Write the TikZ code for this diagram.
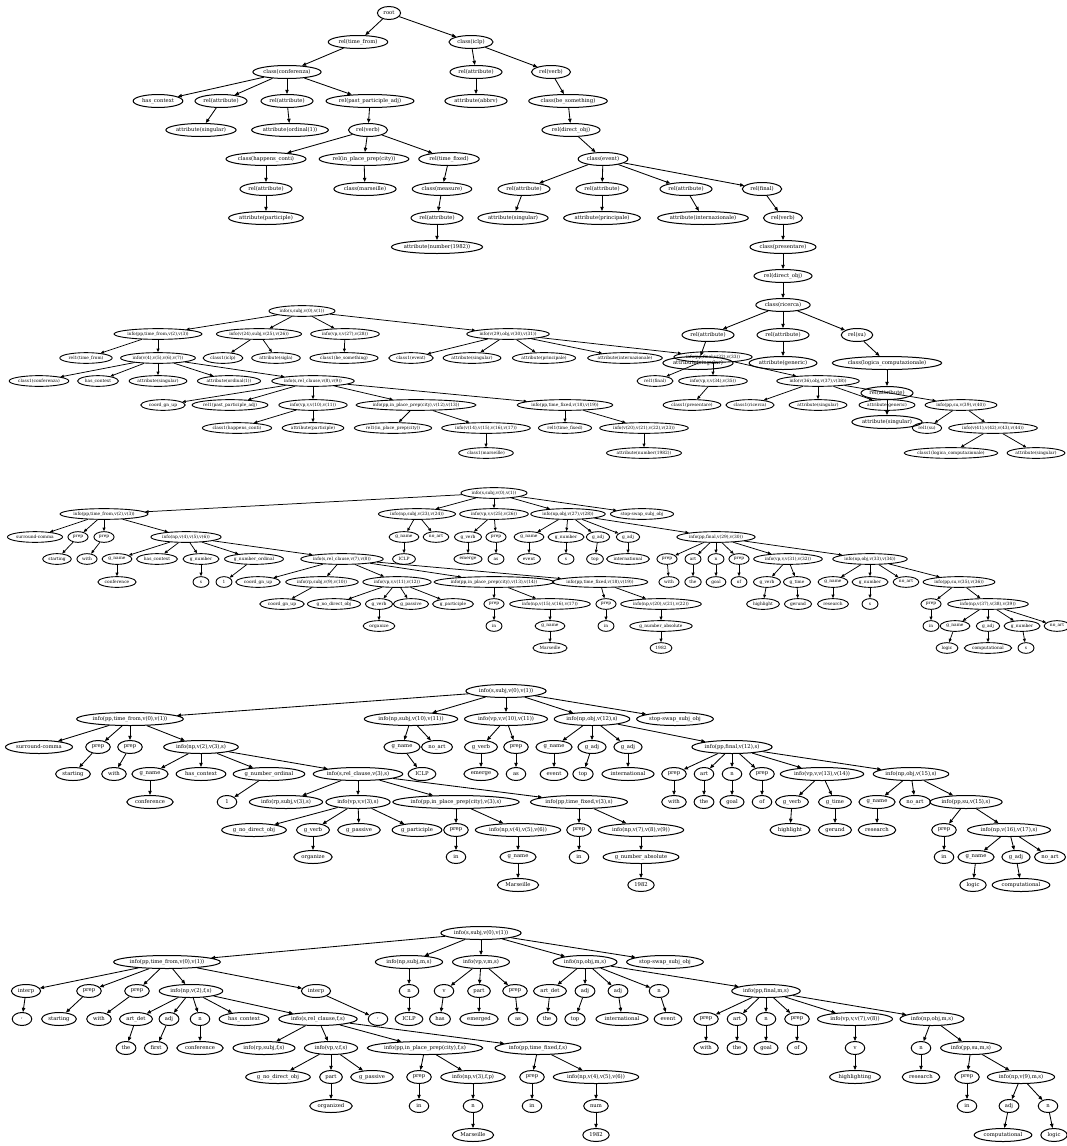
\documentclass[tikz,border=0pt]{standalone}
\usepackage{fontspec}
\setmainfont{DejaVu Serif}
\newfontfamily\gvmetric[Scale=1.12]{Liberation Serif}
\usetikzlibrary{shapes.geometric,arrows.meta}

% label drawn in the main font, sized by Times metrics (as the layout tool does)
\newlength\gvw
\newcommand{\gv}[1]{\settowidth{\gvw}{\gvmetric #1}\makebox[\gvw]{#1}}

\tikzset{
  tnode/.style={draw, ellipse, inner ysep=0pt},
  big/.style={tnode, font=\fontsize{5.3}{6}\selectfont, inner xsep=3.4pt,
    minimum height=13pt, minimum width=19.5pt, line width=1pt},
  small/.style={tnode, font=\fontsize{4.36}{5}\selectfont, inner xsep=2.8pt,
    minimum height=10.7pt, minimum width=16pt, line width=0.9pt},
  bigarc/.style={-{Triangle[length=4.2pt,width=3.4pt]}, line width=0.85pt},
  smallarc/.style={-{Triangle[length=3.5pt,width=2.8pt]}, line width=0.75pt},
}

\begin{document}
\begin{tikzpicture}[x=1pt, y=-1pt]
  \useasboundingbox (0,0) rectangle (1066,1146);

  % semantic tree
  \node[big] (a1) at (389,13) {\gv{root}};
  \node[big] (a2) at (358,42) {\gv{rel(time\_from)}};
  \node[big] (a3) at (471,42) {\gv{class(iclp)}};
  \node[big] (a4) at (287,72) {\gv{class(conferenza)}};
  \node[big] (a5) at (158,101) {\gv{has\_context}};
  \node[big] (a6) at (221,101) {\gv{rel(attribute)}};
  \node[big] (a7) at (287,101) {\gv{rel(attribute)}};
  \node[big] (a8) at (370,101) {\gv{rel(past\_participle\_adj)}};
  \node[big] (a9) at (201,130) {\gv{attribute(singular)}};
  \node[big] (a10) at (290,130) {\gv{attribute(ordinal(1))}};
  \node[big] (a11) at (368,130) {\gv{rel(verb)}};
  \node[big] (a12) at (266,159) {\gv{class(happens\_conti)}};
  \node[big] (a13) at (364,159) {\gv{rel(in\_place\_prep(city))}};
  \node[big] (a14) at (449,159) {\gv{rel(time\_fixed)}};
  \node[big] (a15) at (266,189) {\gv{rel(attribute)}};
  \node[big] (a16) at (365,189) {\gv{class(marseille)}};
  \node[big] (a17) at (442,189) {\gv{class(measure)}};
  \node[big] (a18) at (266,218) {\gv{attribute(participle)}};
  \node[big] (a19) at (437,218) {\gv{rel(attribute)}};
  \node[big] (a20) at (437,247) {\gv{attribute(number(1982))}};
  \node[big] (a21) at (476,72) {\gv{rel(attribute)}};
  \node[big] (a22) at (476,101) {\gv{attribute(abbrv)}};
  \node[big] (a23) at (551,72) {\gv{rel(verb)}};
  \node[big] (a24) at (568,101) {\gv{class(be\_something)}};
  \node[big] (a25) at (571,130) {\gv{rel(direct\_obj)}};
  \node[big] (a26) at (603,159) {\gv{class(event)}};
  \node[big] (a27) at (524,189) {\gv{rel(attribute)}};
  \node[big] (a28) at (602,189) {\gv{rel(attribute)}};
  \node[big] (a29) at (686,189) {\gv{rel(attribute)}};
  \node[big] (a30) at (762,189) {\gv{rel(final)}};
  \node[big] (a31) at (513,218) {\gv{attribute(singular)}};
  \node[big] (a32) at (602,218) {\gv{attribute(principale)}};
  \node[big] (a33) at (703,218) {\gv{attribute(internazionale)}};
  \node[big] (a34) at (783,218) {\gv{rel(verb)}};
  \node[big] (a35) at (783,247) {\gv{class(presentare)}};
  \node[big] (a36) at (783,276) {\gv{rel(direct\_obj)}};
  \node[big] (a37) at (783,305) {\gv{class(ricerca)}};
  \node[big] (a38) at (708,335) {\gv{rel(attribute)}};
  \node[big] (a39) at (783,335) {\gv{rel(attribute)}};
  \node[big] (a40) at (857,335) {\gv{rel(su)}};
  \node[big] (a41) at (698,363) {\gv{attribute(singular)}};
  \node[big] (a42) at (783,363) {\gv{attribute(generic)}};
  \node[big] (a43) at (887,363) {\gv{class(logica\_computazionale)}};
  \node[big] (a44) at (887,393) {\gv{rel(attribute)}};
  \node[big] (a45) at (887,422) {\gv{attribute(singular)}};
  \foreach \u/\v in {a1/a2, a1/a3, a2/a4, a4/a5, a4/a6, a4/a7, a4/a8, a6/a9, a7/a10,
      a8/a11, a11/a12, a11/a13, a11/a14, a12/a15, a13/a16, a14/a17, a15/a18, a17/a19,
      a19/a20, a3/a21, a3/a23, a21/a22, a23/a24, a24/a25, a25/a26, a26/a27, a26/a28,
      a26/a29, a26/a30, a27/a31, a28/a32, a29/a33, a30/a34, a34/a35, a35/a36, a36/a37,
      a37/a38, a37/a39, a37/a40, a38/a41, a39/a42, a40/a43, a43/a44, a44/a45}
    \draw[bigarc] (\u) -- (\v);

  % info tree
  \node[small] (b1) at (302,311) {\gv{info(s,subj,v(0),v(1))}};
  \node[small] (b2) at (158,334) {\gv{info(pp,time\_from,v(2),v(3))}};
  \node[small] (b3) at (259,334) {\gv{info(v(24),subj,v(25),v(26))}};
  \node[small] (b4) at (345,334) {\gv{info(vp,v,v(27),v(28))}};
  \node[small] (b5) at (508,334) {\gv{info(v(29),obj,v(30),v(31))}};
  \node[small] (b6) at (86,358) {\gv{rel1(time\_from)}};
  \node[small] (b7) at (158,358) {\gv{info(v(4),v(5),v(6),v(7))}};
  \node[small] (b8) at (223,358) {\gv{class1(iclp)}};
  \node[small] (b9) at (276,358) {\gv{attribute(sigla)}};
  \node[small] (b10) at (344,358) {\gv{class1(be\_something)}};
  \node[small] (b11) at (411,358) {\gv{class1(event)}};
  \node[small] (b12) at (472,358) {\gv{attribute(singular)}};
  \node[small] (b13) at (544,358) {\gv{attribute(principale)}};
  \node[small] (b14) at (625,358) {\gv{attribute(internazionale)}};
  \node[small] (b15) at (713,357) {\gv{info(pp,final,v(32),v(33))}};
  \node[small] (b16) at (39,381) {\gv{class1(conferenza)}};
  \node[small] (b17) at (98,381) {\gv{has\_context}};
  \node[small] (b18) at (158,381) {\gv{attribute(singular)}};
  \node[small] (b19) at (229,381) {\gv{attribute(ordinal(1))}};
  \node[small] (b20) at (313,381) {\gv{info(s,rel\_clause,v(8),v(9))}};
  \node[small] (b21) at (655,381) {\gv{rel1(final)}};
  \node[small] (b22) at (713,381) {\gv{info(vp,v,v(34),v(35))}};
  \node[small] (b23) at (818,381) {\gv{info(v(36),obj,v(37),v(38))}};
  \node[small] (b24) at (163,405) {\gv{coord\_gn\_up}};
  \node[small] (b25) at (230,405) {\gv{rel1(past\_participle\_adj)}};
  \node[small] (b26) at (313,405) {\gv{info(vp,v,v(10),v(11))}};
  \node[small] (b27) at (416,405) {\gv{info(pp,in\_place\_prep(city),v(12),v(13))}};
  \node[small] (b28) at (565,405) {\gv{info(pp,time\_fixed,v(18),v(19))}};
  \node[small] (b29) at (692,405) {\gv{class1(presentare)}};
  \node[small] (b30) at (750,405) {\gv{class1(ricerca)}};
  \node[small] (b31) at (818,405) {\gv{attribute(singular)}};
  \node[small] (b32) at (887,405) {\gv{attribute(generic)}};
  \node[small] (b33) at (961,405) {\gv{info(pp,su,v(39),v(40))}};
  \node[small] (b34) at (237,428) {\gv{class1(happens\_conti)}};
  \node[small] (b35) at (313,428) {\gv{attribute(participle)}};
  \node[small] (b36) at (393,428) {\gv{rel1(in\_place\_prep(city))}};
  \node[small] (b37) at (486,428) {\gv{info(v(14),v(15),v(16),v(17))}};
  \node[small] (b38) at (565,428) {\gv{rel1(time\_fixed)}};
  \node[small] (b39) at (644,428) {\gv{info(v(20),v(21),v(22),v(23))}};
  \node[small] (b40) at (927,428) {\gv{rel1(su)}};
  \node[small] (b41) at (993,428) {\gv{info(v(41),v(42),v(43),v(44))}};
  \node[small] (b42) at (486,453) {\gv{class1(marseille)}};
  \node[small] (b43) at (644,453) {\gv{attribute(number(1982))}};
  \node[small] (b44) at (951,453) {\gv{class1(logica\_computazionale)}};
  \node[small] (b45) at (1036,453) {\gv{attribute(singular)}};
  \foreach \u/\v in {b1/b2, b1/b3, b1/b4, b1/b5, b2/b6, b2/b7, b3/b8, b3/b9, b4/b10,
      b5/b11, b5/b12, b5/b13, b5/b14, b5/b15, b7/b16, b7/b17, b7/b18, b7/b19, b7/b20,
      b20/b24, b20/b25, b20/b26, b20/b27, b20/b28, b26/b34, b26/b35, b27/b36, b27/b37,
      b37/b42, b28/b38, b28/b39, b39/b43, b15/b21, b15/b22, b15/b23, b22/b29, b23/b30,
      b23/b31, b23/b32, b23/b33, b33/b40, b33/b41, b41/b44, b41/b45}
    \draw[smallarc] (\u) -- (\v);

  % grammar tree with variables
  \node[small] (c1) at (494,493) {\gv{info(s,subj,v(0),v(1))}};
  \node[small] (c2) at (104,514) {\gv{info(pp,time\_from,v(2),v(3))}};
  \node[small] (c3) at (417,514) {\gv{info(np,subj,v(23),v(24))}};
  \node[small] (c4) at (494,514) {\gv{info(vp,v,v(25),v(26))}};
  \node[small] (c5) at (568,514) {\gv{info(np,obj,v(27),v(28))}};
  \node[small] (c6) at (642,514) {\gv{stop-swap\_subj\_obj}};
  \node[small] (c7) at (35,537) {\gv{surround-comma}};
  \node[small] (c8) at (78,537) {\gv{prep}};
  \node[small] (c9) at (104,537) {\gv{prep}};
  \node[small] (c10) at (186,537) {\gv{info(np,v(4),v(5),v(6))}};
  \node[small] (c11) at (404,537) {\gv{g\_name}};
  \node[small] (c12) at (436,537) {\gv{no\_art}};
  \node[small] (c13) at (468,537) {\gv{g\_verb}};
  \node[small] (c14) at (496,537) {\gv{prep}};
  \node[small] (c15) at (529,537) {\gv{g\_name}};
  \node[small] (c16) at (566,537) {\gv{g\_number}};
  \node[small] (c17) at (598,537) {\gv{g\_adj}};
  \node[small] (c18) at (628,537) {\gv{g\_adj}};
  \node[small] (c19) at (716,537) {\gv{info(pp,final,v(29),v(30))}};
  \node[small] (c20) at (57,559) {\gv{starting}};
  \node[small] (c21) at (87,559) {\gv{with}};
  \node[small] (c22) at (117,559) {\gv{g\_name}};
  \node[small] (c23) at (157,559) {\gv{has\_context}};
  \node[small] (c24) at (201,559) {\gv{g\_number}};
  \node[small] (c25) at (254,559) {\gv{g\_number\_ordinal}};
  \node[small] (c26) at (342,559) {\gv{info(s,rel\_clause,v(7),v(8))}};
  \node[small] (c27) at (404,559) {\gv{ICLP}};
  \node[small] (c28) at (468,559) {\gv{emerge}};
  \node[small] (c29) at (496,559) {\gv{as}};
  \node[small] (c30) at (529,559) {\gv{event}};
  \node[small] (c31) at (566,559) {\gv{s}};
  \node[small] (c32) at (595,559) {\gv{top}};
  \node[small] (c33) at (628,559) {\gv{international}};
  \node[small] (c34) at (667,559) {\gv{prep}};
  \node[small] (c35) at (693,559) {\gv{art}};
  \node[small] (c36) at (716,559) {\gv{n}};
  \node[small] (c37) at (739,559) {\gv{prep}};
  \node[small] (c38) at (788,559) {\gv{info(vp,v,v(31),v(32))}};
  \node[small] (c39) at (870,559) {\gv{info(np,obj,v(33),v(34))}};
  \node[small] (c40) at (117,582) {\gv{conference}};
  \node[small] (c41) at (201,582) {\gv{s}};
  \node[small] (c42) at (224,582) {\gv{1}};
  \node[small] (c43) at (258,582) {\gv{coord\_gn\_up}};
  \node[small] (c44) at (322,582) {\gv{info(rp,subj,v(9),v(10))}};
  \node[small] (c45) at (397,582) {\gv{info(vp,v,v(11),v(12))}};
  \node[small] (c46) at (494,582) {\gv{info(pp,in\_place\_prep(city),v(13),v(14))}};
  \node[small] (c47) at (600,582) {\gv{info(pp,time\_fixed,v(18),v(19))}};
  \node[small] (c48) at (669,582) {\gv{with}};
  \node[small] (c49) at (693,582) {\gv{the}};
  \node[small] (c50) at (716,582) {\gv{goal}};
  \node[small] (c51) at (739,582) {\gv{of}};
  \node[small] (c52) at (767,582) {\gv{g\_verb}};
  \node[small] (c53) at (797,582) {\gv{g\_time}};
  \node[small] (c54) at (833,582) {\gv{g\_name}};
  \node[small] (c55) at (870,582) {\gv{g\_number}};
  \node[small] (c56) at (906,582) {\gv{no\_art}};
  \node[small] (c57) at (959,582) {\gv{info(pp,su,v(35),v(36))}};
  \node[small] (c58) at (282,604) {\gv{coord\_gn\_up}};
  \node[small] (c59) at (334,604) {\gv{g\_no\_direct\_obj}};
  \node[small] (c60) at (379,604) {\gv{g\_verb}};
  \node[small] (c61) at (411,604) {\gv{g\_passive}};
  \node[small] (c62) at (453,604) {\gv{g\_participle}};
  \node[small] (c63) at (494,604) {\gv{prep}};
  \node[small] (c64) at (550,604) {\gv{info(np,v(15),v(16),v(17))}};
  \node[small] (c65) at (606,604) {\gv{prep}};
  \node[small] (c66) at (661,604) {\gv{info(np,v(20),v(21),v(22))}};
  \node[small] (c67) at (763,604) {\gv{highlight}};
  \node[small] (c68) at (798,604) {\gv{gerund}};
  \node[small] (c69) at (833,604) {\gv{research}};
  \node[small] (c70) at (870,604) {\gv{s}};
  \node[small] (c71) at (931,604) {\gv{prep}};
  \node[small] (c72) at (988,604) {\gv{info(np,v(37),v(38),v(39))}};
  \node[small] (c73) at (379,626) {\gv{organize}};
  \node[small] (c74) at (494,626) {\gv{in}};
  \node[small] (c75) at (550,626) {\gv{g\_name}};
  \node[small] (c76) at (606,626) {\gv{in}};
  \node[small] (c77) at (661,626) {\gv{g\_number\_absolute}};
  \node[small] (c78) at (931,626) {\gv{in}};
  \node[small] (c79) at (955,626) {\gv{g\_name}};
  \node[small] (c80) at (988,626) {\gv{g\_adj}};
  \node[small] (c81) at (1022,626) {\gv{g\_number}};
  \node[small] (c82) at (1057,626) {\gv{no\_art}};
  \node[small] (c83) at (550,648) {\gv{Marseille}};
  \node[small] (c84) at (661,648) {\gv{1982}};
  \node[small] (c85) at (947,648) {\gv{logic}};
  \node[small] (c86) at (988,648) {\gv{computational}};
  \node[small] (c87) at (1026,648) {\gv{s}};
  \foreach \u/\v in {c1/c2, c1/c3, c1/c4, c1/c5, c1/c6, c2/c7, c2/c8, c2/c9, c2/c10,
      c8/c20, c9/c21, c10/c22, c10/c23, c10/c24, c10/c25, c10/c26, c22/c40, c24/c41,
      c25/c42, c26/c43, c26/c44, c26/c45, c26/c46, c26/c47, c44/c58, c45/c59, c45/c60,
      c45/c61, c45/c62, c60/c73, c46/c63, c46/c64, c63/c74, c64/c75, c75/c83, c47/c65,
      c47/c66, c65/c76, c66/c77, c77/c84, c3/c11, c3/c12, c11/c27, c4/c13, c4/c14,
      c13/c28, c14/c29, c5/c15, c5/c16, c5/c17, c5/c18, c5/c19, c15/c30, c16/c31,
      c17/c32, c18/c33, c19/c34, c19/c35, c19/c36, c19/c37, c19/c38, c19/c39, c34/c48,
      c35/c49, c36/c50, c37/c51, c38/c52, c38/c53, c52/c67, c53/c68, c39/c54, c39/c55,
      c39/c56, c39/c57, c54/c69, c55/c70, c57/c71, c57/c72, c71/c78, c72/c79, c72/c80,
      c72/c81, c72/c82, c79/c85, c80/c86, c81/c87}
    \draw[smallarc] (\u) -- (\v);

  % grammar tree, second pass
  \node[big] (d1) at (506,691) {\gv{info(s,subj,v(0),v(1))}};
  \node[big] (d2) at (130,719) {\gv{info(pp,time\_from,v(0),v(1))}};
  \node[big] (d3) at (411,719) {\gv{info(np,subj,v(10),v(11))}};
  \node[big] (d4) at (506,719) {\gv{info(vp,v,v(10),v(11))}};
  \node[big] (d5) at (592,719) {\gv{info(np,obj,v(12),s)}};
  \node[big] (d6) at (675,719) {\gv{stop-swap\_subj\_obj}};
  \node[big] (d7) at (39,747) {\gv{surround-comma}};
  \node[big] (d8) at (98,747) {\gv{prep}};
  \node[big] (d9) at (130,747) {\gv{prep}};
  \node[big] (d10) at (201,747) {\gv{info(np,v(2),v(3),s)}};
  \node[big] (d11) at (402,747) {\gv{g\_name}};
  \node[big] (d12) at (437,747) {\gv{no\_art}};
  \node[big] (d13) at (481,747) {\gv{g\_verb}};
  \node[big] (d14) at (516,747) {\gv{prep}};
  \node[big] (d15) at (554,747) {\gv{g\_name}};
  \node[big] (d16) at (592,747) {\gv{g\_adj}};
  \node[big] (d17) at (628,747) {\gv{g\_adj}};
  \node[big] (d18) at (732,747) {\gv{info(pp,final,v(12),s)}};
  \node[big] (d19) at (73,774) {\gv{starting}};
  \node[big] (d20) at (114,774) {\gv{with}};
  \node[big] (d21) at (150,774) {\gv{g\_name}};
  \node[big] (d22) at (201,774) {\gv{has\_context}};
  \node[big] (d23) at (269,774) {\gv{g\_number\_ordinal}};
  \node[big] (d24) at (358,774) {\gv{info(s,rel\_clause,v(3),s)}};
  \node[big] (d25) at (422,774) {\gv{ICLP}};
  \node[big] (d26) at (481,774) {\gv{emerge}};
  \node[big] (d27) at (516,774) {\gv{as}};
  \node[big] (d28) at (554,774) {\gv{event}};
  \node[big] (d29) at (583,774) {\gv{top}};
  \node[big] (d30) at (628,774) {\gv{international}};
  \node[big] (d31) at (674,774) {\gv{prep}};
  \node[big] (d32) at (704,774) {\gv{art}};
  \node[big] (d33) at (732,774) {\gv{n}};
  \node[big] (d34) at (762,774) {\gv{prep}};
  \node[big] (d35) at (822,774) {\gv{info(vp,v,v(13),v(14))}};
  \node[big] (d36) at (911,774) {\gv{info(np,obj,v(15),s)}};
  \node[big] (d37) at (150,802) {\gv{conference}};
  \node[big] (d38) at (227,802) {\gv{1}};
  \node[big] (d39) at (286,802) {\gv{info(rp,subj,v(3),s)}};
  \node[big] (d40) at (358,802) {\gv{info(vp,v,v(3),s)}};
  \node[big] (d41) at (456,802) {\gv{info(pp,in\_place\_prep(city),v(3),s)}};
  \node[big] (d42) at (579,802) {\gv{info(pp,time\_fixed,v(3),s)}};
  \node[big] (d43) at (674,802) {\gv{with}};
  \node[big] (d44) at (704,802) {\gv{the}};
  \node[big] (d45) at (732,802) {\gv{goal}};
  \node[big] (d46) at (762,802) {\gv{of}};
  \node[big] (d47) at (792,802) {\gv{g\_verb}};
  \node[big] (d48) at (835,802) {\gv{g\_time}};
  \node[big] (d49) at (877,802) {\gv{g\_name}};
  \node[big] (d50) at (915,802) {\gv{no\_art}};
  \node[big] (d51) at (966,802) {\gv{info(pp,su,v(15),s)}};
  \node[big] (d52) at (254,830) {\gv{g\_no\_direct\_obj}};
  \node[big] (d53) at (313,830) {\gv{g\_verb}};
  \node[big] (d54) at (359,830) {\gv{g\_passive}};
  \node[big] (d55) at (417,830) {\gv{g\_participle}};
  \node[big] (d56) at (456,830) {\gv{prep}};
  \node[big] (d57) at (518,830) {\gv{info(np,v(4),v(5),v(6))}};
  \node[big] (d58) at (579,830) {\gv{prep}};
  \node[big] (d59) at (641,830) {\gv{info(np,v(7),v(8),v(9))}};
  \node[big] (d60) at (790,830) {\gv{highlight}};
  \node[big] (d61) at (835,830) {\gv{gerund}};
  \node[big] (d62) at (877,830) {\gv{research}};
  \node[big] (d63) at (944,830) {\gv{prep}};
  \node[big] (d64) at (1009,830) {\gv{info(np,v(16),v(17),s)}};
  \node[big] (d65) at (313,857) {\gv{organize}};
  \node[big] (d66) at (456,857) {\gv{in}};
  \node[big] (d67) at (518,857) {\gv{g\_name}};
  \node[big] (d68) at (579,857) {\gv{in}};
  \node[big] (d69) at (641,857) {\gv{g\_number\_absolute}};
  \node[big] (d70) at (944,857) {\gv{in}};
  \node[big] (d71) at (976,857) {\gv{g\_name}};
  \node[big] (d72) at (1016,857) {\gv{g\_adj}};
  \node[big] (d73) at (1050,857) {\gv{no\_art}};
  \node[big] (d74) at (518,885) {\gv{Marseille}};
  \node[big] (d75) at (641,885) {\gv{1982}};
  \node[big] (d76) at (973,885) {\gv{logic}};
  \node[big] (d77) at (1021,885) {\gv{computational}};
  \foreach \u/\v in {d1/d2, d1/d3, d1/d4, d1/d5, d1/d6, d2/d7, d2/d8, d2/d9, d2/d10,
      d8/d19, d9/d20, d10/d21, d10/d22, d10/d23, d10/d24, d21/d37, d23/d38, d24/d39,
      d24/d40, d24/d41, d24/d42, d40/d52, d40/d53, d40/d54, d40/d55, d53/d65, d41/d56,
      d41/d57, d56/d66, d57/d67, d67/d74, d42/d58, d42/d59, d58/d68, d59/d69, d69/d75,
      d3/d11, d3/d12, d11/d25, d4/d13, d4/d14, d13/d26, d14/d27, d5/d15, d5/d16, d5/d17,
      d5/d18, d15/d28, d16/d29, d17/d30, d18/d31, d18/d32, d18/d33, d18/d34, d18/d35,
      d18/d36, d31/d43, d32/d44, d33/d45, d34/d46, d35/d47, d35/d48, d47/d60, d48/d61,
      d36/d49, d36/d50, d36/d51, d49/d62, d51/d63, d51/d64, d63/d70, d64/d71, d64/d72,
      d64/d73, d71/d76, d72/d77}
    \draw[bigarc] (\u) -- (\v);

  % surface tree
  \node[big] (e1) at (481,933) {\gv{info(s,subj,v(0),v(1))}};
  \node[big] (e2) at (167,962) {\gv{info(pp,time\_from,v(0),v(1))}};
  \node[big] (e3) at (409,962) {\gv{info(np,subj,m,s)}};
  \node[big] (e4) at (481,962) {\gv{info(vp,v,m,s)}};
  \node[big] (e5) at (585,962) {\gv{info(np,obj,m,s)}};
  \node[big] (e6) at (665,962) {\gv{stop-swap\_subj\_obj}};
  \node[big] (e7) at (26,991) {\gv{interp}};
  \node[big] (e8) at (89,991) {\gv{prep}};
  \node[big] (e9) at (137,991) {\gv{prep}};
  \node[big] (e10) at (191,991) {\gv{info(np,v(2),f,s)}};
  \node[big] (e11) at (316,991) {\gv{interp}};
  \node[big] (e12) at (409,991) {\gv{n}};
  \node[big] (e13) at (444,991) {\gv{v}};
  \node[big] (e14) at (479,991) {\gv{part}};
  \node[big] (e15) at (515,991) {\gv{prep}};
  \node[big] (e16) at (550,991) {\gv{art\_det}};
  \node[big] (e17) at (585,991) {\gv{adj}};
  \node[big] (e18) at (618,991) {\gv{adj}};
  \node[big] (e19) at (659,991) {\gv{n}};
  \node[big] (e20) at (766,991) {\gv{info(pp,final,m,s)}};
  \node[big] (e21) at (22,1019) {\gv{,}};
  \node[big] (e22) at (59,1019) {\gv{starting}};
  \node[big] (e23) at (99,1019) {\gv{with}};
  \node[big] (e24) at (136,1019) {\gv{art\_det}};
  \node[big] (e25) at (169,1019) {\gv{adj}};
  \node[big] (e26) at (200,1019) {\gv{n}};
  \node[big] (e27) at (244,1019) {\gv{has\_context}};
  \node[big] (e28) at (318,1019) {\gv{info(s,rel\_clause,f,s)}};
  \node[big] (e29) at (378,1019) {\gv{,}};
  \node[big] (e30) at (409,1019) {\gv{ICLP}};
  \node[big] (e31) at (440,1019) {\gv{has}};
  \node[big] (e32) at (479,1019) {\gv{emerged}};
  \node[big] (e33) at (518,1019) {\gv{as}};
  \node[big] (e34) at (547,1019) {\gv{the}};
  \node[big] (e35) at (575,1019) {\gv{top}};
  \node[big] (e36) at (622,1019) {\gv{international}};
  \node[big] (e37) at (668,1019) {\gv{event}};
  \node[big] (e38) at (706,1019) {\gv{prep}};
  \node[big] (e39) at (737,1019) {\gv{art}};
  \node[big] (e40) at (766,1019) {\gv{n}};
  \node[big] (e41) at (797,1019) {\gv{prep}};
  \node[big] (e42) at (855,1019) {\gv{info(vp,v,v(7),v(8))}};
  \node[big] (e43) at (932,1019) {\gv{info(np,obj,m,s)}};
  \node[big] (e44) at (126,1048) {\gv{the}};
  \node[big] (e45) at (156,1048) {\gv{first}};
  \node[big] (e46) at (200,1048) {\gv{conference}};
  \node[big] (e47) at (264,1048) {\gv{info(rp,subj,f,s)}};
  \node[big] (e48) at (331,1048) {\gv{info(vp,v,f,s)}};
  \node[big] (e49) at (425,1048) {\gv{info(pp,in\_place\_prep(city),f,s)}};
  \node[big] (e50) at (538,1048) {\gv{info(pp,time\_fixed,f,s)}};
  \node[big] (e51) at (706,1048) {\gv{with}};
  \node[big] (e52) at (737,1048) {\gv{the}};
  \node[big] (e53) at (766,1048) {\gv{goal}};
  \node[big] (e54) at (797,1048) {\gv{of}};
  \node[big] (e55) at (855,1048) {\gv{v}};
  \node[big] (e56) at (921,1048) {\gv{n}};
  \node[big] (e57) at (971,1048) {\gv{info(pp,su,m,s)}};
  \node[big] (e58) at (278,1077) {\gv{g\_no\_direct\_obj}};
  \node[big] (e59) at (331,1077) {\gv{part}};
  \node[big] (e60) at (372,1077) {\gv{g\_passive}};
  \node[big] (e61) at (419,1077) {\gv{prep}};
  \node[big] (e62) at (473,1077) {\gv{info(np,v(3),f,p)}};
  \node[big] (e63) at (532,1077) {\gv{prep}};
  \node[big] (e64) at (596,1077) {\gv{info(np,v(4),v(5),v(6))}};
  \node[big] (e65) at (855,1077) {\gv{highlighting}};
  \node[big] (e66) at (921,1077) {\gv{research}};
  \node[big] (e67) at (967,1077) {\gv{prep}};
  \node[big] (e68) at (1021,1077) {\gv{info(np,v(9),m,s)}};
  \node[big] (e69) at (331,1106) {\gv{organized}};
  \node[big] (e70) at (419,1106) {\gv{in}};
  \node[big] (e71) at (473,1106) {\gv{n}};
  \node[big] (e72) at (532,1106) {\gv{in}};
  \node[big] (e73) at (596,1106) {\gv{num}};
  \node[big] (e74) at (967,1106) {\gv{in}};
  \node[big] (e75) at (1009,1106) {\gv{adj}};
  \node[big] (e76) at (1048,1106) {\gv{n}};
  \node[big] (e77) at (473,1135) {\gv{Marseille}};
  \node[big] (e78) at (596,1135) {\gv{1982}};
  \node[big] (e79) at (1003,1135) {\gv{computational}};
  \node[big] (e80) at (1054,1135) {\gv{logic}};
  \foreach \u/\v in {e1/e2, e1/e3, e1/e4, e1/e5, e1/e6, e2/e7, e2/e8, e2/e9, e2/e10,
      e2/e11, e7/e21, e8/e22, e9/e23, e10/e24, e10/e25, e10/e26, e10/e27, e10/e28,
      e11/e29, e24/e44, e25/e45, e26/e46, e28/e47, e28/e48, e28/e49, e28/e50, e48/e58,
      e48/e59, e48/e60, e59/e69, e49/e61, e49/e62, e61/e70, e62/e71, e71/e77, e50/e63,
      e50/e64, e63/e72, e64/e73, e73/e78, e3/e12, e12/e30, e4/e13, e4/e14, e4/e15,
      e13/e31, e14/e32, e15/e33, e5/e16, e5/e17, e5/e18, e5/e19, e5/e20, e16/e34,
      e17/e35, e18/e36, e19/e37, e20/e38, e20/e39, e20/e40, e20/e41, e20/e42, e20/e43,
      e38/e51, e39/e52, e40/e53, e41/e54, e42/e55, e55/e65, e43/e56, e43/e57, e56/e66,
      e57/e67, e57/e68, e67/e74, e68/e75, e68/e76, e75/e79, e76/e80}
    \draw[bigarc] (\u) -- (\v);
\end{tikzpicture}
\end{document}
